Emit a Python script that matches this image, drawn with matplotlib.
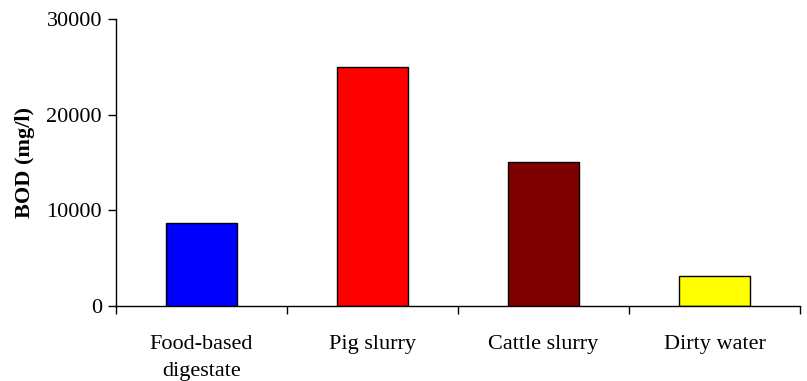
import matplotlib
matplotlib.use("Agg")
import matplotlib.pyplot as plt
import numpy as np

categories = ["Food-based\ndigestate", "Pig slurry", "Cattle slurry", "Dirty water"]
bod_values = [8700, 25000, 15000, 3100]
bar_colors = ["#0000ff", "#ff0000", "#800000", "#ffff00"]

plt.rcParams["font.family"] = ["Liberation Serif", "DejaVu Serif"]

fig = plt.figure(figsize=(8.07, 3.81), dpi=100)
ax = fig.add_axes([116 / 807, 75 / 381, 684 / 807, 287 / 381])

x = np.arange(len(categories))
ax.bar(x, bod_values, width=0.41, color=bar_colors, edgecolor="black", linewidth=1.0)

ax.set_xlim(-0.5, len(categories) - 0.5)
ax.set_ylim(0, 30000)
ax.set_yticks([0, 10000, 20000, 30000])
ax.tick_params(axis="y", labelsize=16, length=6, width=1, direction="out", pad=4)

ax.set_xticks(x)
ax.set_xticklabels(categories, fontsize=16, linespacing=1.55, va="top")
ax.tick_params(axis="x", which="major", length=0, pad=21)
ax.set_xticks(np.arange(len(categories) + 1) - 0.5, minor=True)
ax.tick_params(axis="x", which="minor", length=6, width=1, direction="out")

for side in ("top", "right"):
    ax.spines[side].set_visible(False)
for side in ("left", "bottom"):
    ax.spines[side].set_linewidth(1)

ax.set_ylabel("BOD (mg/l)", fontsize=16, fontweight="bold", labelpad=8)

fig.savefig("out.png", dpi=100, facecolor="white")
